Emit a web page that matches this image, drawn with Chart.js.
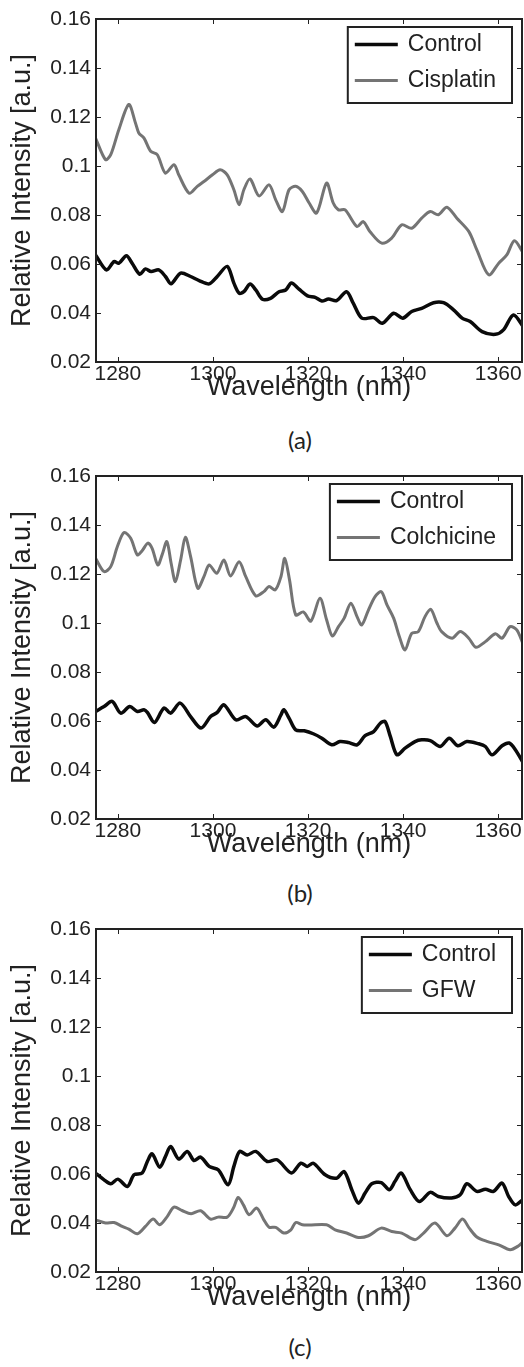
<!DOCTYPE html>
<html>
<head>
<meta charset="utf-8">
<script src="https://cdn.jsdelivr.net/npm/chart.js@4.4.1/dist/chart.umd.min.js"></script>
<style>
  body { margin: 0; background: #fff; }
  .panel { position: absolute; left: 0; width: 524px; height: 420px; }
  .caption { position: absolute; left: 0; width: 600px; text-align: center; line-height: 24px;
             font-family: Lato, "Open Sans", sans-serif; font-size: 24px; color: #222; }
</style>
</head>
<body>
<div class="panel" style="top:0px"><canvas id="chartA" width="524" height="420"></canvas></div>
<div class="caption" style="top:428px">(a)</div>
<div class="panel" style="top:457px"><canvas id="chartB" width="524" height="420"></canvas></div>
<div class="caption" style="top:881px">(b)</div>
<div class="panel" style="top:910px"><canvas id="chartC" width="524" height="420"></canvas></div>
<div class="caption" style="top:1335px">(c)</div>

<script>
// wavelengths (nm) and relative intensities
const aCtrlX = [1275.3, 1277.6, 1279.2, 1280.2, 1281.8, 1283.0, 1284.6, 1285.8, 1287.0, 1288.6, 1290.0, 1291.2, 1293.2, 1295.3, 1297.1, 1299.2, 1300.9, 1303.0, 1304.4, 1305.5, 1306.5, 1307.8, 1309.0, 1310.4, 1312.1, 1313.9, 1315.3, 1316.5, 1318.1, 1319.9, 1321.5, 1322.9, 1324.3, 1326.0, 1328.1, 1329.5, 1331.3, 1333.8, 1335.6, 1338.0, 1339.9, 1341.8, 1343.9, 1346.4, 1348.5, 1350.6, 1352.4, 1354.1, 1356.6, 1359.4, 1361.1, 1363.2, 1365.3];
const aCtrlY = [0.0637, 0.0576, 0.0610, 0.0603, 0.0634, 0.0603, 0.0558, 0.0580, 0.0569, 0.0576, 0.0549, 0.0519, 0.0563, 0.0549, 0.0532, 0.0519, 0.0549, 0.0590, 0.0522, 0.0481, 0.0487, 0.0518, 0.0494, 0.0456, 0.0460, 0.0487, 0.0494, 0.0522, 0.0497, 0.0470, 0.0464, 0.0449, 0.0457, 0.0451, 0.0487, 0.0440, 0.0379, 0.0381, 0.0358, 0.0399, 0.0379, 0.0406, 0.0419, 0.0442, 0.0442, 0.0413, 0.0379, 0.0365, 0.0324, 0.0313, 0.0331, 0.0392, 0.0344];
const aCisX = [1275.3, 1277.4, 1278.5, 1280.2, 1282.3, 1283.7, 1284.4, 1285.5, 1286.9, 1288.3, 1290.0, 1291.8, 1292.8, 1295.0, 1296.7, 1298.1, 1299.9, 1301.5, 1303.0, 1304.4, 1305.5, 1306.5, 1307.8, 1309.7, 1311.8, 1313.2, 1314.6, 1316.0, 1317.4, 1318.8, 1320.2, 1321.8, 1323.9, 1325.3, 1326.4, 1327.8, 1330.3, 1331.6, 1333.0, 1335.5, 1337.6, 1339.7, 1341.8, 1343.9, 1345.7, 1347.4, 1349.2, 1351.3, 1353.8, 1355.5, 1358.0, 1360.1, 1361.8, 1363.4, 1365.3];
const aCisY = [0.1114, 0.1026, 0.1046, 0.1148, 0.1251, 0.1176, 0.1135, 0.1114, 0.1060, 0.1046, 0.0971, 0.1005, 0.0964, 0.0889, 0.0917, 0.0937, 0.0964, 0.0985, 0.0964, 0.0903, 0.0842, 0.0903, 0.0947, 0.0878, 0.0923, 0.0862, 0.0814, 0.0903, 0.0917, 0.0896, 0.0850, 0.0808, 0.0930, 0.0849, 0.0821, 0.0821, 0.0753, 0.0773, 0.0733, 0.0685, 0.0706, 0.0760, 0.0746, 0.0787, 0.0814, 0.0801, 0.0832, 0.0787, 0.0733, 0.0658, 0.0556, 0.0603, 0.0637, 0.0695, 0.0644];

const bCtrlX = [1275.3, 1277.1, 1278.8, 1280.6, 1282.5, 1284.1, 1285.5, 1286.2, 1287.7, 1289.7, 1291.1, 1293.1, 1295.3, 1297.5, 1299.5, 1300.9, 1302.3, 1304.8, 1306.9, 1309.3, 1311.1, 1312.8, 1314.3, 1314.9, 1316.0, 1317.4, 1319.2, 1321.1, 1322.9, 1325.0, 1326.7, 1328.5, 1330.3, 1332.0, 1333.8, 1335.2, 1336.2, 1337.3, 1338.7, 1340.4, 1342.5, 1343.9, 1345.7, 1347.8, 1349.7, 1351.5, 1353.4, 1355.9, 1357.3, 1358.7, 1360.8, 1362.3, 1363.6, 1365.3];
const bCtrlY = [0.0639, 0.0659, 0.0680, 0.0632, 0.0659, 0.0639, 0.0646, 0.0635, 0.0594, 0.0653, 0.0632, 0.0673, 0.0618, 0.0571, 0.0618, 0.0635, 0.0666, 0.0605, 0.0618, 0.0580, 0.0605, 0.0575, 0.0625, 0.0646, 0.0612, 0.0564, 0.0560, 0.0548, 0.0530, 0.0503, 0.0516, 0.0512, 0.0503, 0.0540, 0.0557, 0.0591, 0.0598, 0.0537, 0.0462, 0.0489, 0.0516, 0.0523, 0.0520, 0.0496, 0.0530, 0.0499, 0.0516, 0.0507, 0.0496, 0.0462, 0.0499, 0.0510, 0.0483, 0.0428];
const bColX = [1275.3, 1277.1, 1278.5, 1279.9, 1281.3, 1282.7, 1284.1, 1285.1, 1286.3, 1287.2, 1288.4, 1289.3, 1290.3, 1291.2, 1292.1, 1293.2, 1294.2, 1295.3, 1296.8, 1298.1, 1299.2, 1300.8, 1302.3, 1303.7, 1305.5, 1306.9, 1309.0, 1310.7, 1311.8, 1313.1, 1314.3, 1315.1, 1316.1, 1317.4, 1319.0, 1320.6, 1322.5, 1323.9, 1325.1, 1326.4, 1327.6, 1329.0, 1330.3, 1331.3, 1332.7, 1334.1, 1335.4, 1336.6, 1338.0, 1339.2, 1340.4, 1341.8, 1343.2, 1344.6, 1345.8, 1347.1, 1348.1, 1350.3, 1352.0, 1353.8, 1355.3, 1357.3, 1359.4, 1360.8, 1362.5, 1363.9, 1365.3];
const bColY = [0.1264, 0.1210, 0.1230, 0.1312, 0.1369, 0.1346, 0.1278, 0.1295, 0.1326, 0.1305, 0.1237, 0.1278, 0.1332, 0.1244, 0.1169, 0.1257, 0.1350, 0.1271, 0.1142, 0.1189, 0.1237, 0.1203, 0.1257, 0.1192, 0.1250, 0.1189, 0.1111, 0.1128, 0.1149, 0.1135, 0.1189, 0.1264, 0.1176, 0.1033, 0.1045, 0.1008, 0.1101, 0.1013, 0.0947, 0.0985, 0.1020, 0.1081, 0.1026, 0.0992, 0.1053, 0.1108, 0.1128, 0.1074, 0.1020, 0.0945, 0.0890, 0.0958, 0.0965, 0.1026, 0.1056, 0.1000, 0.0965, 0.0938, 0.0965, 0.0938, 0.0901, 0.0924, 0.0956, 0.0938, 0.0985, 0.0972, 0.0911];

const cCtrlX = [1275.3, 1277.1, 1278.5, 1280.0, 1282.0, 1283.4, 1285.1, 1286.2, 1287.2, 1288.8, 1290.0, 1291.1, 1292.8, 1294.6, 1296.0, 1297.4, 1299.2, 1301.1, 1303.2, 1304.4, 1305.6, 1307.2, 1309.0, 1311.4, 1313.5, 1316.5, 1318.5, 1319.8, 1321.1, 1323.6, 1326.0, 1327.6, 1329.2, 1330.6, 1332.0, 1333.4, 1335.4, 1337.1, 1338.3, 1339.6, 1341.5, 1343.4, 1345.7, 1347.4, 1350.2, 1352.0, 1353.4, 1355.5, 1357.3, 1359.0, 1360.8, 1362.2, 1363.6, 1365.3];
const cCtrlY = [0.0604, 0.0576, 0.0560, 0.0579, 0.0549, 0.0597, 0.0604, 0.0651, 0.0682, 0.0628, 0.0671, 0.0712, 0.0661, 0.0692, 0.0655, 0.0669, 0.0631, 0.0617, 0.0556, 0.0631, 0.0692, 0.0678, 0.0692, 0.0651, 0.0658, 0.0604, 0.0644, 0.0631, 0.0644, 0.0597, 0.0583, 0.0610, 0.0536, 0.0481, 0.0522, 0.0560, 0.0565, 0.0536, 0.0570, 0.0604, 0.0536, 0.0488, 0.0525, 0.0508, 0.0502, 0.0515, 0.0560, 0.0529, 0.0538, 0.0529, 0.0563, 0.0508, 0.0474, 0.0498];
const cGfwX = [1275.3, 1277.4, 1279.2, 1280.9, 1282.3, 1284.1, 1285.8, 1287.4, 1288.8, 1290.3, 1291.8, 1293.5, 1295.4, 1297.4, 1299.5, 1301.1, 1303.0, 1304.3, 1305.3, 1306.4, 1307.6, 1309.2, 1310.7, 1311.8, 1313.2, 1314.9, 1316.4, 1317.4, 1318.8, 1320.2, 1323.9, 1325.7, 1328.1, 1330.6, 1332.7, 1335.4, 1337.6, 1339.7, 1342.5, 1344.3, 1346.7, 1349.2, 1350.9, 1352.5, 1353.9, 1355.5, 1357.6, 1360.1, 1362.5, 1364.3, 1365.3];
const cGfwY = [0.0413, 0.0400, 0.0402, 0.0386, 0.0375, 0.0356, 0.0386, 0.0416, 0.0393, 0.0424, 0.0465, 0.0451, 0.0438, 0.0450, 0.0416, 0.0424, 0.0424, 0.0461, 0.0504, 0.0474, 0.0434, 0.0461, 0.0413, 0.0383, 0.0382, 0.0359, 0.0372, 0.0402, 0.0393, 0.0392, 0.0393, 0.0372, 0.0359, 0.0341, 0.0348, 0.0379, 0.0365, 0.0359, 0.0332, 0.0359, 0.0400, 0.0348, 0.0379, 0.0416, 0.0379, 0.0343, 0.0325, 0.0311, 0.0291, 0.0307, 0.0325];

const xMin = 1275.4, xMax = 1365, xStep = 20;
const yMin = 0.02, yMax = 0.16, yStep = 0.02;

const FONT = "'Liberation Sans', Arial, Helvetica, sans-serif";
const INK = '#222';

// box frame with inward ticks on all four sides
const frameTicks = {
    id: 'frameTicks',
    afterDatasetsDraw(chart) {
        const { ctx, chartArea: a, scales: { x, y } } = chart;
        ctx.save();
        ctx.strokeStyle = INK;
        ctx.lineWidth = 1;
        ctx.beginPath();
        x.ticks.forEach(t => {
            const px = Math.round(x.getPixelForValue(t.value)) + 0.5;
            ctx.moveTo(px, a.bottom); ctx.lineTo(px, a.bottom - 5);
            ctx.moveTo(px, a.top); ctx.lineTo(px, a.top + 5);
        });
        y.ticks.forEach(t => {
            const py = Math.round(y.getPixelForValue(t.value)) + 0.5;
            ctx.moveTo(a.left, py); ctx.lineTo(a.left + 5, py);
            ctx.moveTo(a.right, py); ctx.lineTo(a.right - 5, py);
        });
        ctx.stroke();
        ctx.lineWidth = 2;
        ctx.strokeRect(a.left, a.top, a.right - a.left, a.bottom - a.top);
        ctx.restore();
    }
};

// matlab-style boxed legend in the upper right corner
const boxLegend = {
    id: 'boxLegend',
    afterDraw(chart) {
        const { ctx, chartArea: a } = chart;
        const sets = chart.data.datasets;
        ctx.save();
        ctx.font = `23px ${FONT}`;
        const textW = Math.max(...sets.map(d => ctx.measureText(d.label).width));
        const w = textW + 76, h = 76;
        const left = a.right - 10 - w, top = a.top + 8;
        ctx.fillStyle = '#fff';
        ctx.fillRect(left, top, w, h);
        ctx.strokeStyle = INK;
        ctx.lineWidth = 2;
        ctx.strokeRect(left, top, w, h);
        sets.forEach((d, i) => {
            const cy = top + 17.5 + i * 36;
            ctx.strokeStyle = d.borderColor;
            ctx.lineWidth = d.borderWidth;
            ctx.beginPath();
            ctx.moveTo(left + 7, cy);
            ctx.lineTo(left + 50, cy);
            ctx.stroke();
            ctx.fillStyle = INK;
            ctx.textBaseline = 'middle';
            ctx.fillText(d.label, left + 60, cy);
        });
        ctx.restore();
    }
};

function series(label, xs, ys, color, width) {
    return {
        label,
        data: xs.map((x, i) => ({ x, y: ys[i] })),
        borderColor: color,
        borderWidth: width,
        pointRadius: 0,
        tension: 0.3,
        clip: 0
    };
}

function makeChart(id, datasets) {
    return new Chart(document.getElementById(id), {
        type: 'line',
        data: { datasets },
        options: {
            responsive: false,
            animation: false,
            events: [],
            layout: { padding: { top: 19, right: 2, bottom: 0, left: 0 } },
            plugins: { legend: { display: false }, tooltip: { enabled: false } },
            scales: {
                x: {
                    type: 'linear',
                    min: xMin,
                    max: xMax,
                    afterFit: s => { s.height = 58; },
                    grid: { display: false, drawTicks: false },
                    border: { display: false },
                    ticks: {
                        stepSize: xStep,
                        includeBounds: false,
                        maxRotation: 0,
                        padding: 2,
                        color: INK,
                        font: { family: FONT, size: 21, lineHeight: 1 },
                        callback: v => String(v)
                    },
                    title: {
                        display: true,
                        text: 'Wavelength (nm)',
                        color: INK,
                        font: { family: FONT, size: 27, lineHeight: 1 },
                        padding: { top: 0, bottom: 19 }
                    }
                },
                y: {
                    min: yMin,
                    max: yMax,
                    afterFit: s => { s.width = 96; },
                    grid: { display: false, drawTicks: false },
                    border: { display: false },
                    ticks: {
                        stepSize: yStep,
                        includeBounds: false,
                        padding: 5,
                        color: INK,
                        font: { family: FONT, size: 21, lineHeight: 1 },
                        callback: v => String(+v.toFixed(2))
                    },
                    title: {
                        display: true,
                        text: 'Relative Intensity [a.u.]',
                        color: INK,
                        font: { family: FONT, size: 27, lineHeight: 1 },
                        padding: { top: 9, bottom: 0 }
                    }
                }
            }
        },
        plugins: [frameTicks, boxLegend]
    });
}

const BLACK = '#0a0a0a', GRAY = '#747474';

makeChart('chartA', [
    series('Control', aCtrlX, aCtrlY, BLACK, 3.5),
    series('Cisplatin', aCisX, aCisY, GRAY, 3)
]);
makeChart('chartB', [
    series('Control', bCtrlX, bCtrlY, BLACK, 3.5),
    series('Colchicine', bColX, bColY, GRAY, 3)
]);
makeChart('chartC', [
    series('Control', cCtrlX, cCtrlY, BLACK, 3.5),
    series('GFW', cGfwX, cGfwY, GRAY, 3)
]);
</script>
</body>
</html>
